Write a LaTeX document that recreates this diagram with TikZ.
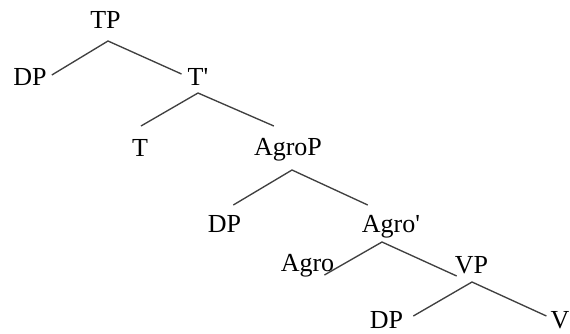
\documentclass[tikz,border=0pt]{standalone}
\usepackage{fontspec}
\setmainfont{Liberation Serif}

\begin{document}
\begin{tikzpicture}[x=1pt,y=-1pt]
                \tikzset{Cat/.style={inner sep=0pt, anchor=base, font=\fontsize{26}{30}\selectfont},
                         Branch/.style={draw=black!75, line width=1.35pt}}
                \useasboundingbox (0,0) rectangle (570,333);
                \node[Cat] (TP)      at (105.5,28) {TP};
                \node[Cat] (DP1)     at (30,85)    {DP};
                \node[Cat] (Tbar)    at (198,85)   {T\textquotesingle};
                \node[Cat] (T)       at (140,156)  {T};
                \node[Cat] (AgroP)   at (288,155)  {AgroP};
                \node[Cat] (DP2)     at (224.5,232) {DP};
                \node[Cat] (Agrobar) at (391,232)  {Agro\textquotesingle};
                \node[Cat] (Agro)    at (307.5,271) {Agro};
                \node[Cat] (VP)      at (471.5,273) {VP};
                \node[Cat] (DP3)     at (386.5,328) {DP};
                \node[Cat] (V)       at (560,328)  {V};
                \draw[Branch] ([shift={(5,-10)}]DP1.base east) -- ([shift={(2.5,13)}]TP.base) -- ([shift={(-6,-11)}]Tbar.base west);
                \draw[Branch] ([shift={(1,-30)}]T.base) -- ([shift={(0,8)}]Tbar.base) -- ([shift={(20,-29)}]AgroP.base west);
                \draw[Branch] ([shift={(-8,-27)}]DP2.base east) -- ([shift={(4,15)}]AgroP.base) -- ([shift={(6,-27)}]Agrobar.base west);
                \draw[Branch] ([shift={(-10,4)}]Agro.base east) -- ([shift={(-9,10)}]Agrobar.base) -- ([shift={(2,3)}]VP.base west);
                \draw[Branch] ([shift={(10,-12)}]DP3.base east) -- ([shift={(0.5,9)}]VP.base) -- ([shift={(-4,-12)}]V.base west);
            \end{tikzpicture}
\end{document}
